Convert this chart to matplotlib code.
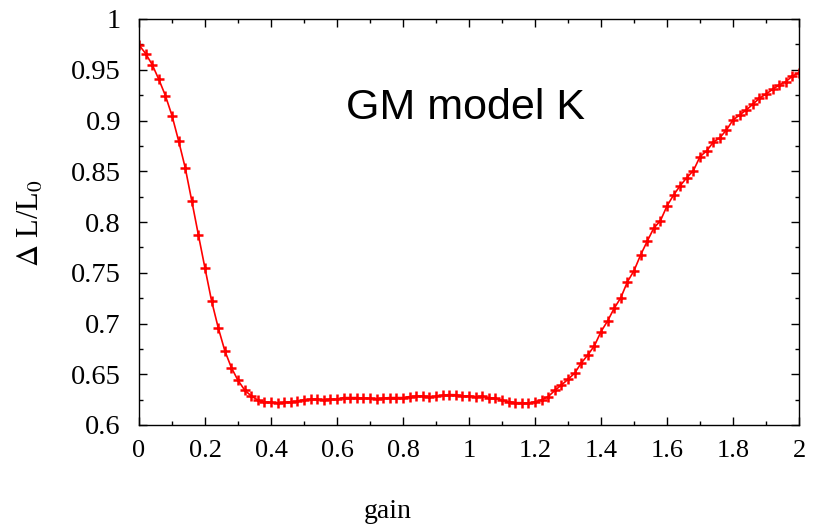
import matplotlib
matplotlib.use("Agg")
import matplotlib.pyplot as plt
import numpy as np
from matplotlib.ticker import MultipleLocator

gain = [0.00, 0.02, 0.04, 0.06, 0.08, 0.10, 0.12, 0.14, 0.16, 0.18,
        0.20, 0.22, 0.24, 0.26, 0.28, 0.30, 0.32, 0.34, 0.36, 0.38,
        0.40, 0.42, 0.44, 0.46, 0.48, 0.50, 0.52, 0.54, 0.56, 0.58,
        0.60, 0.62, 0.64, 0.66, 0.68, 0.70, 0.72, 0.74, 0.76, 0.78,
        0.80, 0.82, 0.84, 0.86, 0.88, 0.90, 0.92, 0.94, 0.96, 0.98,
        1.00, 1.02, 1.04, 1.06, 1.08, 1.10, 1.12, 1.14, 1.16, 1.18,
        1.20, 1.22, 1.24, 1.26, 1.28, 1.30, 1.32, 1.34, 1.36, 1.38,
        1.40, 1.42, 1.44, 1.46, 1.48, 1.50, 1.52, 1.54, 1.56, 1.58,
        1.60, 1.62, 1.64, 1.66, 1.68, 1.70, 1.72, 1.74, 1.76, 1.78,
        1.80, 1.82, 1.84, 1.86, 1.88, 1.90, 1.92, 1.94, 1.96, 1.98, 2.00]

dL_L0 = [0.9744, 0.9660, 0.9550, 0.9406, 0.9245, 0.9048, 0.8800, 0.8535, 0.8207, 0.7872,
         0.7544, 0.7222, 0.6959, 0.6732, 0.6564, 0.6440, 0.6345, 0.6286, 0.6246, 0.6227,
         0.6222, 0.6218, 0.6222, 0.6228, 0.6234, 0.6250, 0.6253, 0.6253, 0.6250, 0.6253,
         0.6253, 0.6270, 0.6270, 0.6270, 0.6265, 0.6262, 0.6260, 0.6265, 0.6270, 0.6270,
         0.6270, 0.6280, 0.6285, 0.6285, 0.6280, 0.6282, 0.6292, 0.6300, 0.6298, 0.6286,
         0.6286, 0.6279, 0.6284, 0.6270, 0.6263, 0.6246, 0.6230, 0.6220, 0.6220, 0.6214,
         0.6230, 0.6246, 0.6280, 0.6340, 0.6394, 0.6450, 0.6510, 0.6610, 0.6690, 0.6780,
         0.6920, 0.7025, 0.7150, 0.7254, 0.7410, 0.7520, 0.7675, 0.7810, 0.7940, 0.8012,
         0.8158, 0.8266, 0.8358, 0.8437, 0.8506, 0.8644, 0.8700, 0.8785, 0.8830, 0.8906,
         0.9005, 0.9054, 0.9103, 0.9160, 0.9219, 0.9260, 0.9307, 0.9350, 0.9382, 0.9438, 0.9470]

x_ticks = [0, 0.2, 0.4, 0.6, 0.8, 1, 1.2, 1.4, 1.6, 1.8, 2]
x_tick_labels = ["0", "0.2", "0.4", "0.6", "0.8", "1", "1.2", "1.4", "1.6", "1.8", "2"]
y_ticks = [0.6, 0.65, 0.7, 0.75, 0.8, 0.85, 0.9, 0.95, 1.0]
y_tick_labels = ["0.6", "0.65", "0.7", "0.75", "0.8", "0.85", "0.9", "0.95", "1"]

plt.rcParams["mathtext.fontset"] = "stix"
serif = ["Liberation Serif", "DejaVu Serif"]

fig = plt.figure(figsize=(8.26, 5.24), dpi=100)
ax = fig.add_axes([139/826, 99/524, 660/826, 406/524])

ax.plot(gain, dL_L0, color="#ff0000", lw=1.2, marker="+", ms=6.5, mew=1.8)

ax.set_xlim(0, 2)
ax.set_ylim(0.6, 1.0)
ax.set_xticks(x_ticks)
ax.set_xticklabels(x_tick_labels, fontfamily=serif, fontsize=19)
ax.set_yticks(y_ticks)
ax.set_yticklabels(y_tick_labels, fontfamily=serif, fontsize=20.5)
ax.xaxis.set_minor_locator(MultipleLocator(0.1))
ax.yaxis.set_minor_locator(MultipleLocator(0.025))

ax.tick_params(which="both", direction="in", top=True, right=True, color="black", width=1)
ax.tick_params(which="major", length=5.5)
ax.tick_params(which="minor", length=3)
ax.tick_params(axis="x", which="major", pad=11)
ax.tick_params(axis="y", which="major", pad=13)

for s in ax.spines.values():
    s.set_linewidth(1.0)
    s.set_color("black")

ax.set_xlabel("gain", fontfamily=serif, fontsize=20, va="center")
ax.xaxis.set_label_coords(0.377, -0.212)
ax.set_ylabel(r"$\Delta$ L/L$_0$", fontfamily=serif, fontsize=22, va="center")
ax.yaxis.set_label_coords(-0.163, 0.4975)

ax.text(0.99, 0.912, "GM model K", fontfamily=["Liberation Sans", "DejaVu Sans"],
        fontsize=31, ha="center", va="center", color="black")

fig.savefig("out.png", dpi=100)
